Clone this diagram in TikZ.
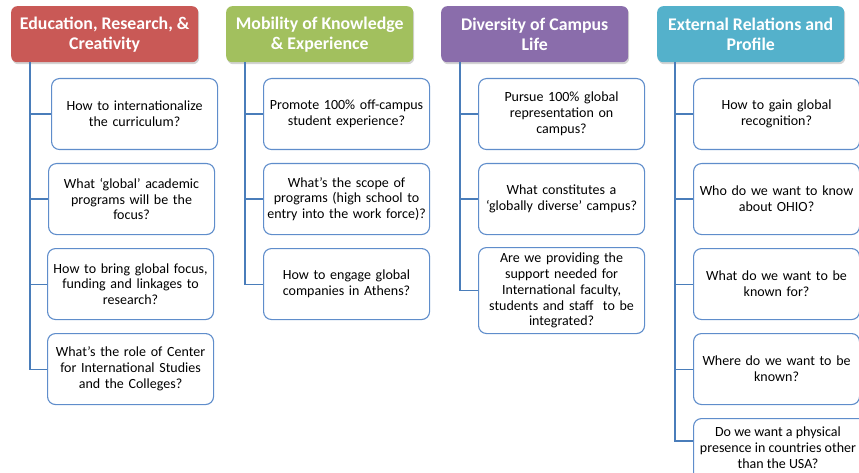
\documentclass[tikz,border=0pt]{standalone}
\usepackage{fontspec}
\setmainfont{Carlito}
\usetikzlibrary{shadows}
\definecolor{hred}{HTML}{C95956}
\definecolor{hgreen}{HTML}{A2C05E}
\definecolor{hpurple}{HTML}{8A6DAB}
\definecolor{hteal}{HTML}{54B1CB}
\definecolor{boxline}{HTML}{5F8DCB}
\definecolor{connline}{HTML}{4A7DBA}
\tikzset{
  header/.style={anchor=north west, minimum width=187pt, minimum height=56pt, inner sep=0pt,
    rounded corners=6pt, text=white, align=center,
    font=\fontsize{17.8}{20}\selectfont\bfseries,
    drop shadow={opacity=0.35, shadow xshift=1pt, shadow yshift=-2pt}},
  qbox/.style={anchor=north west, minimum width=166pt, minimum height=71pt, inner sep=0pt,
    rounded corners=8pt, draw=boxline, line width=1.1pt, fill=white, align=center,
    text width=164pt, font=\fontsize{14}{15.8}\selectfont},
  conn/.style={draw=connline, line width=1.1pt}
}
\begin{document}
\begin{tikzpicture}[x=1pt,y=-1pt]
\useasboundingbox (0,0) rectangle (859,473);
\clip (0,0) rectangle (859,473);
% headers
\node[header, fill=hred] (h1) at (11,6) {Education, Research, \&\\Creativity};
\node[header, fill=hgreen] (h2) at (226,6) {Mobility of Knowledge\\\& Experience};
\node[header, fill=hpurple] (h3) at (441,6) {Diversity of Campus\\Life};
\node[header, fill=hteal] (h4) at (657,6) {External Relations and\\Profile};
% spine points
\coordinate (s1) at ([xshift=19pt]h1.south west);
\coordinate (s2) at ([xshift=19pt]h2.south west);
\coordinate (s3) at ([xshift=19pt]h3.south west);
\coordinate (s4) at ([xshift=18pt]h4.south west);
% column 1
\node[qbox] (b11) at (51,78) {How to internationalize\\the curriculum?};
\node[qbox] (b12) at (48,163) {What ‘global’ academic\\programs will be the\\focus?};
\node[qbox] (b13) at (47,248) {How to bring global focus,\\funding and linkages to\\research?};
\node[qbox] (b14) at (47,333) {What’s the role of Center\\for International Studies\\and the Colleges?};
% column 2
\node[qbox] (b21) at (263,78) {Promote 100\% off-campus\\student experience?};
\node[qbox] (b22) at (263,163) {What’s the scope of\\programs (high school to\\entry into the work force)?};
\node[qbox] (b23) at (263,248) {How to engage global\\companies in Athens?};
% column 3
\node[qbox] (b31) at (478,78) {Pursue 100\% global\\representation on\\campus?};
\node[qbox] (b32) at (478,163) {What constitutes a\\‘globally diverse’ campus?};
\node[qbox, minimum height=86pt] (b33) at (478,247) {Are we providing the\\support needed for\\International faculty,\\students and staff\ \ to be\\integrated?};
% column 4
\node[qbox] (b41) at (693,78) {How to gain global\\recognition?};
\node[qbox] (b42) at (693,163) {Who do we want to know\\about OHIO?};
\node[qbox] (b43) at (693,248) {What do we want to be\\known for?};
\node[qbox] (b44) at (693,333) {Where do we want to be\\known?};
\node[qbox, minimum height=62pt, text width=180pt] (b45) at (693,418) {};
\node[anchor=north, inner sep=0pt, align=center, font=\fontsize{14}{15.8}\selectfont] (t45) at ([xshift=85pt,yshift=-9pt]b45.north west) {Do we want a physical\\presence in countries other\\than the USA?};
\coordinate (b45c) at ([yshift=-23pt]b45.north west);
% connectors
\foreach \b in {b11,b12,b13,b14} \draw[conn] (s1) |- (\b.west);
\foreach \b in {b21,b22,b23} \draw[conn] (s2) |- (\b.west);
\foreach \b in {b31,b32,b33} \draw[conn] (s3) |- (\b.west);
\foreach \b in {b41,b42,b43,b44} \draw[conn] (s4) |- (\b.west);
\draw[conn] (s4) |- (b45c);
\end{tikzpicture}
\end{document}
